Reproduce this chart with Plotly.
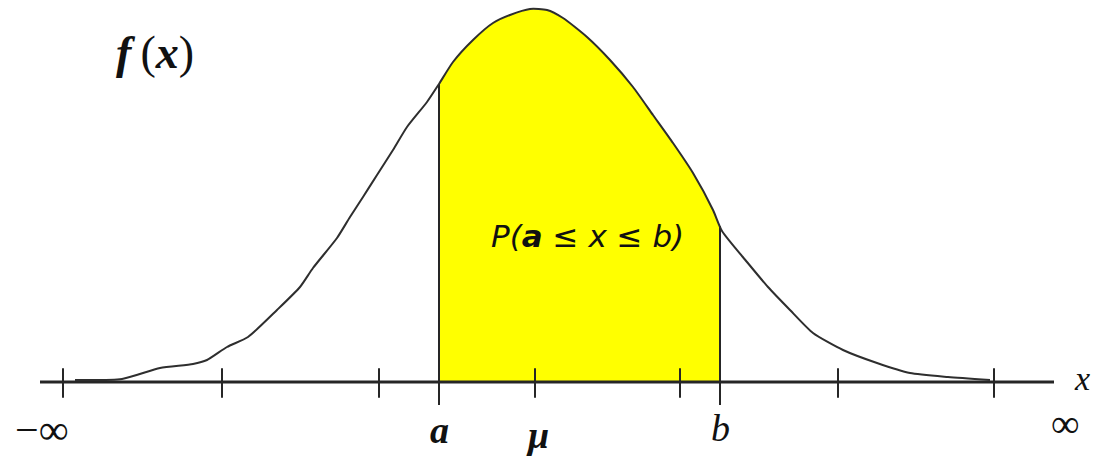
import numpy as np
import plotly.graph_objects as go

curve_x = [-460, -413, -375, -342, -328, -308, -287, -258, -235, -222, -198, -185,
           -172, -158, -142, -128, -108, -96, -82, -62, -42, -25, -5, 12, 28, 52,
           75, 98, 118, 138, 158, 178, 187, 212, 233, 255, 278, 308, 342, 375, 413, 455]
curve_y = [2, 3, 14, 18, 22, 35, 45, 72, 95, 114, 144, 165,
           185, 207, 232, 255, 280, 298, 320, 342, 359, 367, 373, 372, 364, 345,
           322, 295, 267, 239, 209, 172, 151, 120, 95, 72, 49, 32, 19, 9, 5, 2]

tick_x = [-472, -313, -156, 0, 145, 303, 459]
a_val = -96
b_val = 185
axis_span = [-495, 519]

cx = np.array(curve_x, dtype=float)
cy = np.array(curve_y, dtype=float)
ya = float(np.interp(a_val, cx, cy))
yb = float(np.interp(b_val, cx, cy))
inside = (cx > a_val) & (cx < b_val)
fill_x = [a_val, a_val] + list(cx[inside]) + [b_val, b_val]
fill_y = [0, ya] + list(cy[inside]) + [yb, 0]

ink = "#262626"
fig = go.Figure()

# shaded probability area
fig.add_trace(go.Scatter(x=fill_x, y=fill_y, mode="lines", fill="toself",
                         fillcolor="#ffff00", line=dict(color="#ffff00", width=0),
                         hoverinfo="skip"))

# x axis line and ticks
fig.add_trace(go.Scatter(x=axis_span, y=[0, 0], mode="lines",
                         line=dict(color=ink, width=3), hoverinfo="skip"))
fig.add_trace(go.Scatter(x=tick_x, y=[-1] * len(tick_x), mode="markers",
                         marker=dict(symbol="line-ns-open", size=21, color=ink,
                                     line=dict(color=ink, width=2)),
                         hoverinfo="skip"))

# vertical bounds at a and b
for xv, yv in [(a_val, ya), (b_val, yb)]:
    fig.add_trace(go.Scatter(x=[xv, xv], y=[-23, yv], mode="lines",
                             line=dict(color=ink, width=2), hoverinfo="skip"))

# density curve
fig.add_trace(go.Scatter(x=curve_x, y=curve_y, mode="lines",
                         line=dict(color="#2e2e2e", width=2, shape="spline", smoothing=0.6),
                         hoverinfo="skip"))

serif = "Liberation Serif"
labels = [
    ("<b><i>f</i></b>\u2009(<b><i>x</i></b>)", -380, 330, 46, serif),
    ("\u2212\u221e", -493, -48, 42, serif),
    ("\u221e", 530, -41, 40, serif),
    ("<b><i>a</i></b>", a_val, -48, 38, serif),
    ("<b><i>\u03bc</i></b>", 2, -53, 38, serif),
    ("<i>b</i>", b_val, -46, 38, serif),
    ("<i>x</i>", 547, 4, 34, serif),
    ("<i>P(<b>a</b> \u2264 x \u2264 b)</i>", 52, 146, 31, "DejaVu Sans"),
]
for text, x, y, size, fam in labels:
    fig.add_annotation(x=x, y=y, text=text, showarrow=False,
                       font=dict(family=fam, size=size, color="#111111"),
                       xanchor="center", yanchor="middle")

fig.update_layout(
    width=1097, height=459,
    margin=dict(l=0, r=0, t=0, b=0),
    paper_bgcolor="white", plot_bgcolor="white",
    showlegend=False,
    xaxis=dict(range=[-535, 562], visible=False, fixedrange=True),
    yaxis=dict(range=[-77, 382], visible=False, fixedrange=True),
)

fig.write_html("out.html", config={"displayModeBar": False},
               post_script="document.body.style.margin='0px';")
